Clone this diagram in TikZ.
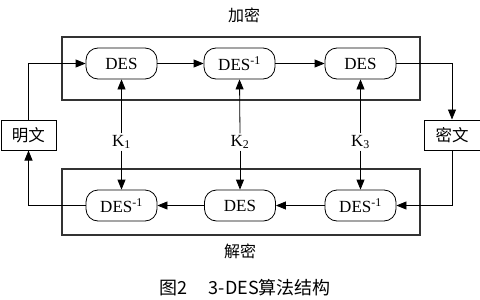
\documentclass[tikz,border=0pt]{standalone}
\usepackage{fontspec}
\setmainfont{Liberation Serif}
\newfontfamily\cjk{Noto Sans CJK SC}
\usetikzlibrary{arrows.meta,positioning}
\tikzset{
  desbox/.style={draw=black, line width=0.8pt, rounded corners=12pt, minimum width=71pt, minimum height=31pt, inner sep=0pt, font=\fontsize{17}{19}\selectfont},
  bigbox/.style={draw=black!80, line width=1.1pt, inner sep=0pt},
  sidebox/.style={draw=black, line width=1pt, minimum width=55pt, minimum height=30pt, inner sep=0pt, font=\cjk\fontsize{16.5}{18}\selectfont},
  keylab/.style={inner sep=0pt, minimum height=17pt, font=\fontsize{17}{19}\selectfont},
  arr/.style={line width=0.8pt, -{Triangle[length=10pt,width=8pt]}},
  ttl/.style={font=\cjk\fontsize{16}{18}\selectfont, inner sep=0pt},
}
\begin{document}
\begin{tikzpicture}[x=1pt,y=-1pt]
\useasboundingbox (0,0) rectangle (480,300);
% big boxes
\node[bigbox, minimum width=358pt, minimum height=63pt] (enc) at (241,68.5) {};
\node[bigbox, minimum width=358pt, minimum height=66pt] (dec) at (241,202) {};
% top row
\node[desbox] (d1) at (121.5,63.5) {DES};
\node[desbox] (d2) at (239.5,63.5) {DES\textsuperscript{-1}};
\node[desbox] (d3) at (360.5,63.5) {DES};
% bottom row
\node[desbox] (b1) at (121.5,205.5) {DES\textsuperscript{-1}};
\node[desbox] (b2) at (240,205.5) {DES};
\node[desbox] (b3) at (360.5,205.5) {DES\textsuperscript{-1}};
% side boxes
\node[sidebox] (mw) at (28.5,135) {明文};
\node[sidebox, minimum width=56pt] (cw) at (452,135) {密文};
% keys
\node[keylab] (k1) at (121.5,142) {K\textsubscript{1}};
\node[keylab] (k2) at (240,142) {K\textsubscript{2}};
\node[keylab] (k3) at (360.5,142) {K\textsubscript{3}};
% titles
\node[ttl] (t1) at (244,15) {加密};
\node[ttl] (t2) at (240,251) {解密};
\node[ttl, font=\cjk\fontsize{18}{20}\selectfont] (cap) at (245,288) {图2\hspace{1.2em}3-DES算法结构};
% connectors
\draw[arr] (mw.north) |- (d1.west);
\draw[arr] (d1.east) -- (d2.west);
\draw[arr] (d2.east) -- (d3.west);
\draw[arr] (d3.east) -| (cw.north);
\draw[arr] (cw.south) |- (b3.east);
\draw[arr] (b3.west) -- (b2.east);
\draw[arr] (b2.west) -- (b1.east);
\draw[arr] (b1.west) -| (mw.south);
\draw[arr] (k1.north) -- (d1.south);
\draw[arr] (k2.north) -- (d2.south);
\draw[arr] (k3.north) -- (d3.south);
\draw[arr] (k1.south) -- (b1.north);
\draw[arr] (k2.south) -- (b2.north);
\draw[arr] (k3.south) -- (b3.north);
\end{tikzpicture}
\end{document}
